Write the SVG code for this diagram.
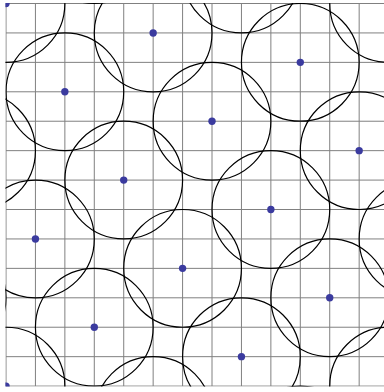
<svg xmlns="http://www.w3.org/2000/svg" width="384" height="392" viewBox="0 0 384 392">
<style>
.grid{fill:none;stroke:#808080;stroke-width:1}
.ring{fill:none;stroke:#000;stroke-width:1.2}
.dot{fill:#3b3b9f;stroke:none}
</style>
<defs>
<clipPath id="clip"><rect x="5.4" y="2.9" width="390" height="383.7"/></clipPath>
</defs>
<rect width="384" height="392" fill="#fff"/>
<g clip-path="url(#clip)">
<g id="grid" class="grid">
<path d="M6 3.5V386.09M35.43 3.5V386.09M64.86 3.5V386.09M94.29 3.5V386.09M123.72 3.5V386.09M153.15 3.5V386.09M182.58 3.5V386.09M212.01 3.5V386.09M241.44 3.5V386.09M270.87 3.5V386.09M300.3 3.5V386.09M329.73 3.5V386.09M359.16 3.5V386.09M388.59 3.5V386.09"/>
<path d="M6 3.5H388.59M6 32.93H388.59M6 62.36H388.59M6 91.79H388.59M6 121.22H388.59M6 150.65H388.59M6 180.08H388.59M6 209.51H388.59M6 238.94H388.59M6 268.37H388.59M6 297.8H388.59M6 327.23H388.59M6 356.66H388.59M6 386.09H388.59"/>
</g>
<g id="p_3_m2"><circle class="ring" cx="94.29" cy="-55.36" r="58.86"/></g>
<g id="p_8_m1"><circle class="ring" cx="241.44" cy="-25.93" r="58.86"/></g>
<g id="p_0_0"><circle class="ring" cx="6" cy="3.5" r="58.86"/><circle class="dot" cx="6" cy="3.5" r="3.7"/></g>
<g id="p_13_0"><circle class="ring" cx="388.59" cy="3.5" r="58.86"/></g>
<g id="p_5_1"><circle class="ring" cx="153.15" cy="32.93" r="58.86"/><circle class="dot" cx="153.15" cy="32.93" r="3.7"/></g>
<g id="p_10_2"><circle class="ring" cx="300.3" cy="62.36" r="58.86"/><circle class="dot" cx="300.3" cy="62.36" r="3.7"/></g>
<g id="p_2_3"><circle class="ring" cx="64.86" cy="91.79" r="58.86"/><circle class="dot" cx="64.86" cy="91.79" r="3.7"/></g>
<g id="p_7_4"><circle class="ring" cx="212.01" cy="121.22" r="58.86"/><circle class="dot" cx="212.01" cy="121.22" r="3.7"/></g>
<g id="p_12_5"><circle class="ring" cx="359.16" cy="150.65" r="58.86"/><circle class="dot" cx="359.16" cy="150.65" r="3.7"/></g>
<g id="p_m1_5"><circle class="ring" cx="-23.43" cy="150.65" r="58.86"/></g>
<g id="p_4_6"><circle class="ring" cx="123.72" cy="180.08" r="58.86"/><circle class="dot" cx="123.72" cy="180.08" r="3.7"/></g>
<g id="p_9_7"><circle class="ring" cx="270.87" cy="209.51" r="58.86"/><circle class="dot" cx="270.87" cy="209.51" r="3.7"/></g>
<g id="p_1_8"><circle class="ring" cx="35.43" cy="238.94" r="58.86"/><circle class="dot" cx="35.43" cy="238.94" r="3.7"/></g>
<g id="p_14_8"><circle class="ring" cx="418.02" cy="238.94" r="58.86"/></g>
<g id="p_6_9"><circle class="ring" cx="182.58" cy="268.37" r="58.86"/><circle class="dot" cx="182.58" cy="268.37" r="3.7"/></g>
<g id="p_11_10"><circle class="ring" cx="329.73" cy="297.8" r="58.86"/><circle class="dot" cx="329.73" cy="297.8" r="3.7"/></g>
<g id="p_m2_10"><circle class="ring" cx="-52.86" cy="297.8" r="58.86"/></g>
<g id="p_3_11"><circle class="ring" cx="94.29" cy="327.23" r="58.86"/><circle class="dot" cx="94.29" cy="327.23" r="3.7"/></g>
<g id="p_8_12"><circle class="ring" cx="241.44" cy="356.66" r="58.86"/><circle class="dot" cx="241.44" cy="356.66" r="3.7"/></g>
<g id="p_0_13"><circle class="ring" cx="6" cy="386.09" r="58.86"/><circle class="dot" cx="6" cy="386.09" r="3.7"/></g>
<g id="p_13_13"><circle class="ring" cx="388.59" cy="386.09" r="58.86"/></g>
<g id="p_5_14"><circle class="ring" cx="153.15" cy="415.52" r="58.86"/></g>
<g id="p_10_15"><circle class="ring" cx="300.3" cy="444.95" r="58.86"/></g>
</g>
</svg>
